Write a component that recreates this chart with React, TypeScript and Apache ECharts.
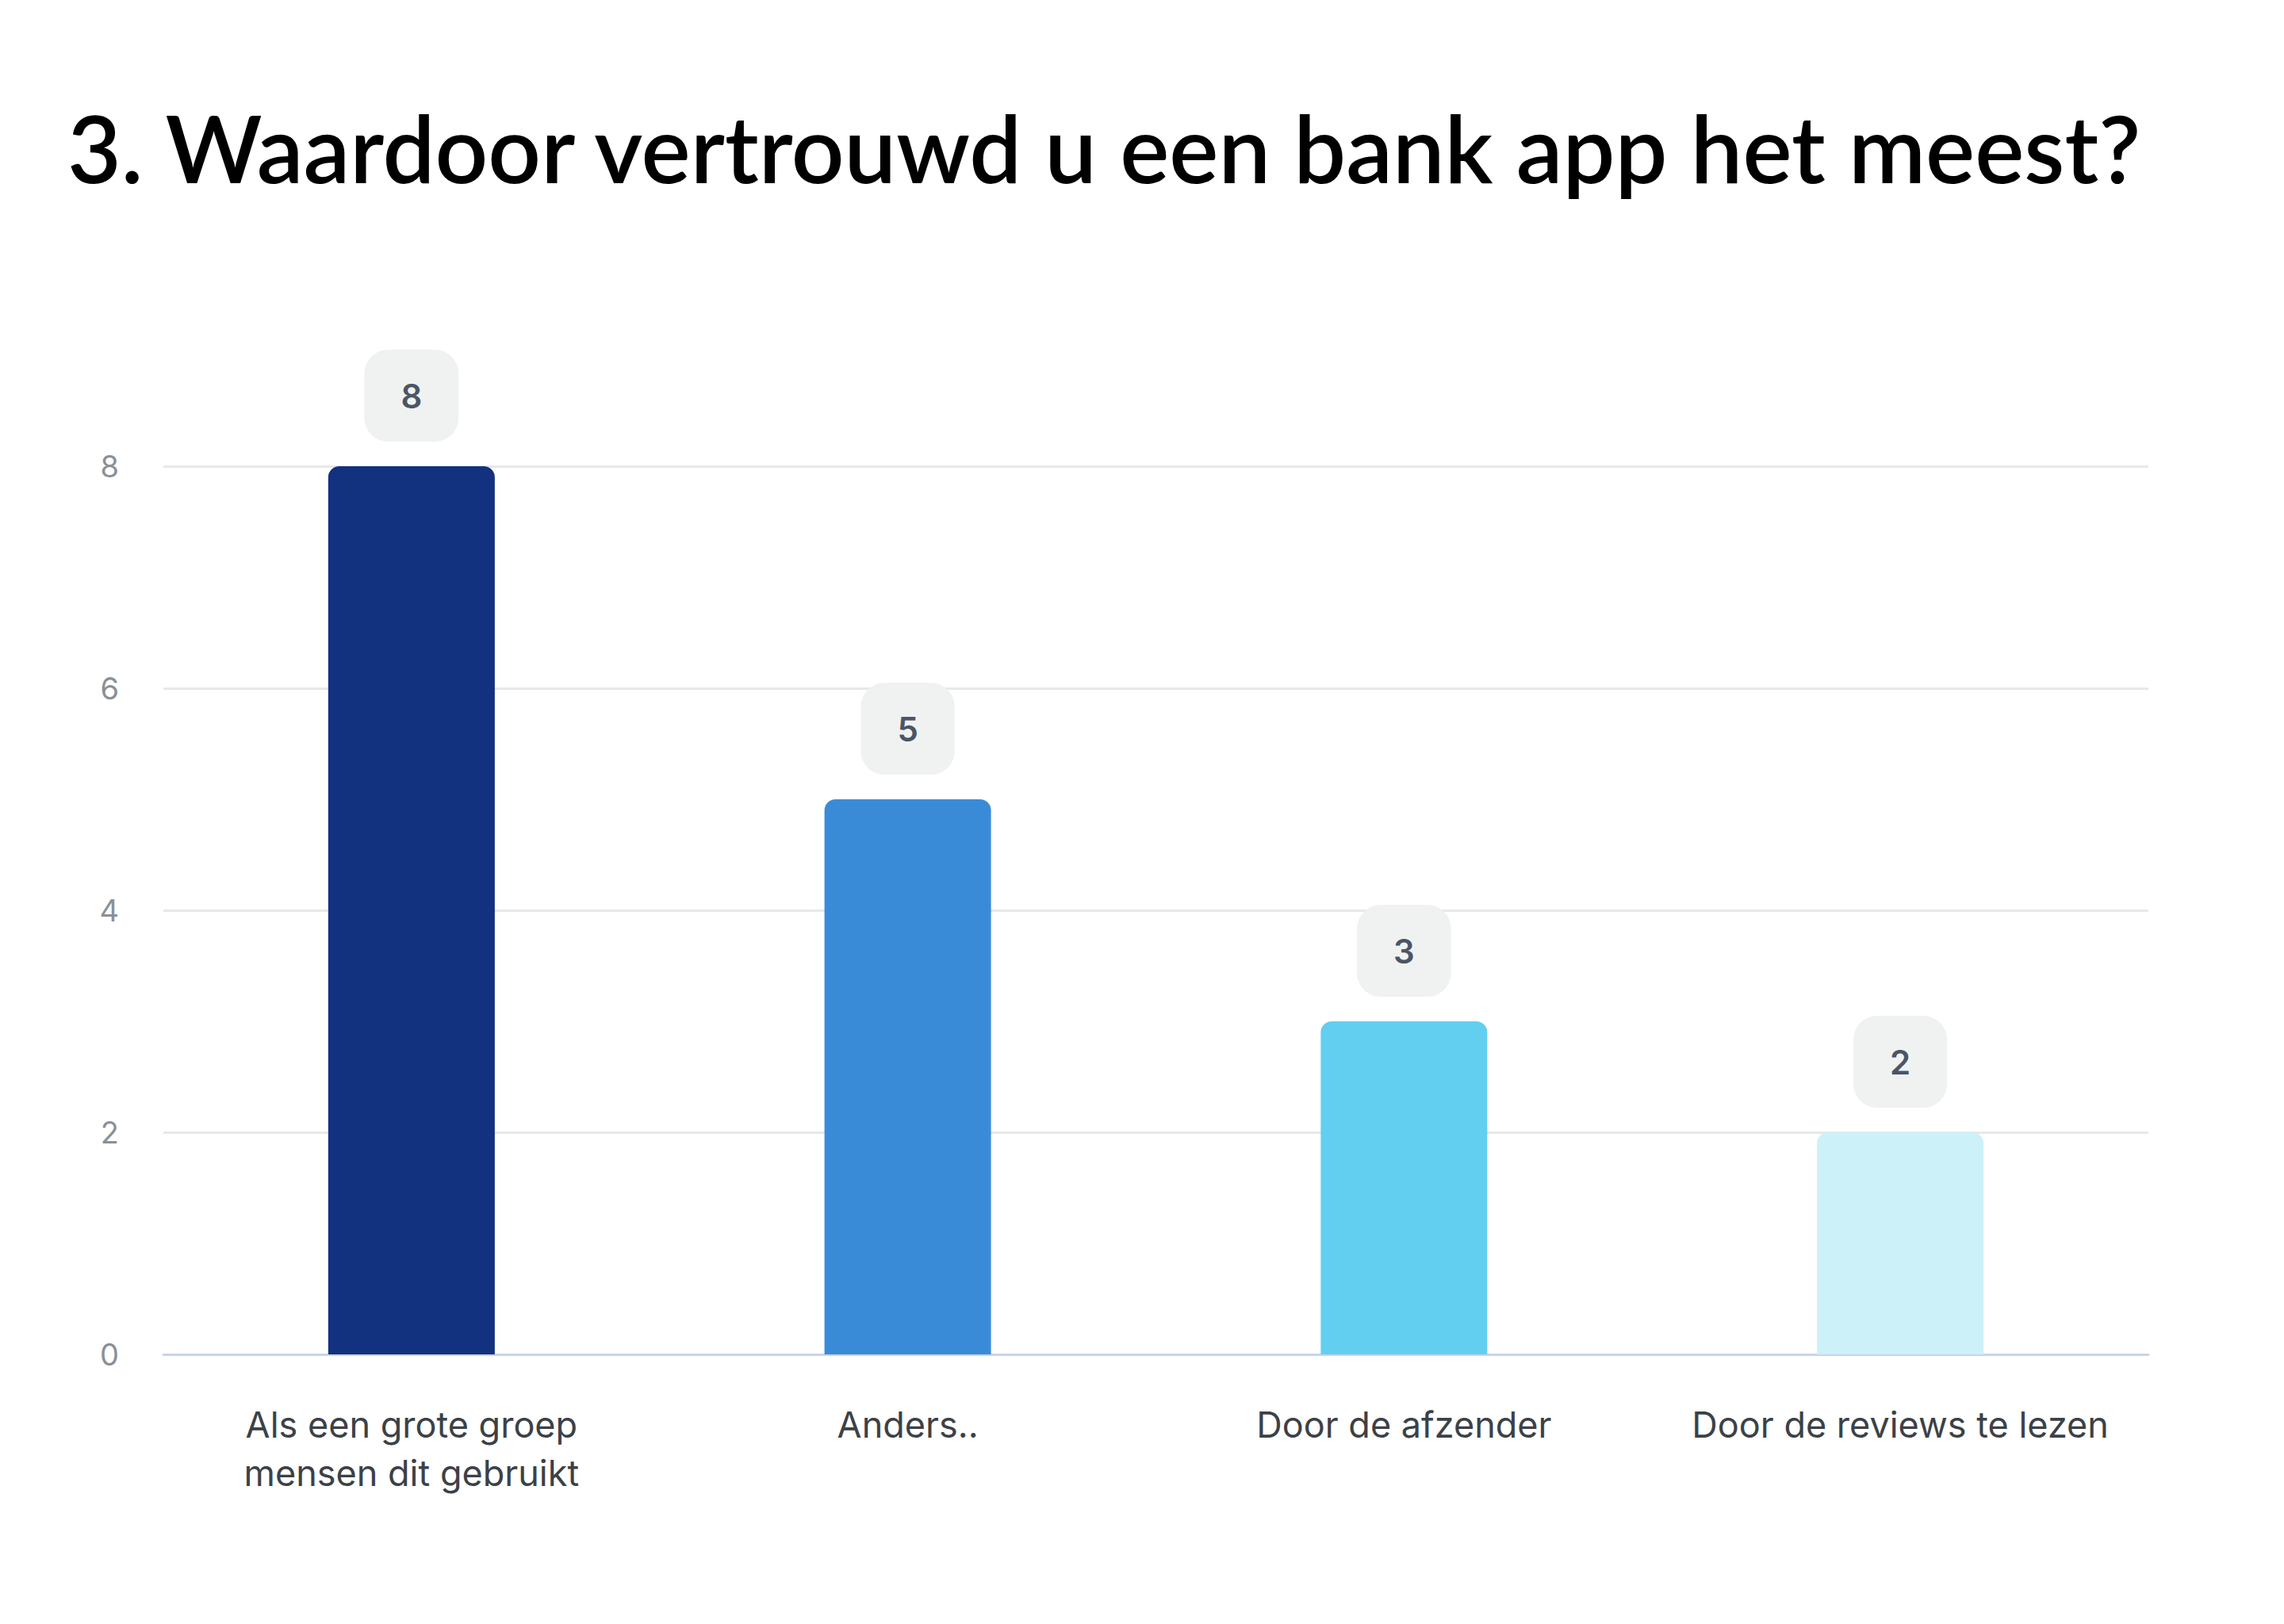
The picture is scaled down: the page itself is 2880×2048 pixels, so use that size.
import React, { useEffect, useRef } from "react";
import * as echarts from "echarts";

const titleText = "3. Waardoor vertrouwd u een bank app het meest?";
const categories = [
  "Als een grote groep\nmensen dit gebruikt",
  "Anders..",
  "Door de afzender",
  "Door de reviews te lezen",
];
const values = [8, 5, 3, 2];
const barColors = ["#12317f", "#3a8bd7", "#62cff0", "#cdf1f9"];
const yTicks = { min: 0, max: 8, interval: 2 };

export default function App() {
  const ref = useRef<HTMLDivElement>(null);
  useEffect(() => {
    if (!ref.current) return;
    const chart = echarts.init(ref.current, undefined, { renderer: "svg" });
    chart.setOption({
      animation: false,
      backgroundColor: "#ffffff",
      title: {
        text: titleText,
        left: 80,
        top: 122,
        textStyle: {
          fontFamily: "Lato",
          fontWeight: 600,
          fontSize: 117,
          color: "#000000",
        },
      },
      grid: { left: 206, right: 171, top: 588, bottom: 340 },
      xAxis: {
        type: "category",
        data: categories,
        axisLine: { show: true, lineStyle: { color: "#c9d4ea", width: 3 } },
        axisTick: { show: false },
        axisLabel: {
          fontFamily: "Inter",
          fontSize: 45,
          lineHeight: 61,
          color: "#3c4147",
          margin: 58,
          interval: 0,
        },
      },
      yAxis: {
        type: "value",
        min: yTicks.min,
        max: yTicks.max,
        interval: yTicks.interval,
        axisLine: { show: false },
        axisTick: { show: false },
        splitLine: { lineStyle: { color: "#e6e8e9", width: 3 } },
        axisLabel: {
          fontFamily: "Inter",
          fontSize: 38,
          color: "#8a9097",
          margin: 56,
        },
      },
      series: [
        {
          type: "bar",
          barWidth: 210,
          data: values.map((v, i) => ({
            value: v,
            itemStyle: { color: barColors[i], borderRadius: [14, 14, 0, 0] },
          })),
          label: {
            show: true,
            position: "top",
            distance: 31,
            fontFamily: "Inter",
            fontWeight: 600,
            fontSize: 42,
            lineHeight: 42,
            color: "#4c5565",
            backgroundColor: "#f0f2f2",
            borderRadius: 30,
            padding: [37, 46, 37, 46],
          },
        },
      ],
    });
    return () => chart.dispose();
  }, []);
  return (
    <div
      ref={ref}
      style={{ position: "fixed", left: 0, top: 0, width: 2880, height: 2048 }}
    />
  );
}
